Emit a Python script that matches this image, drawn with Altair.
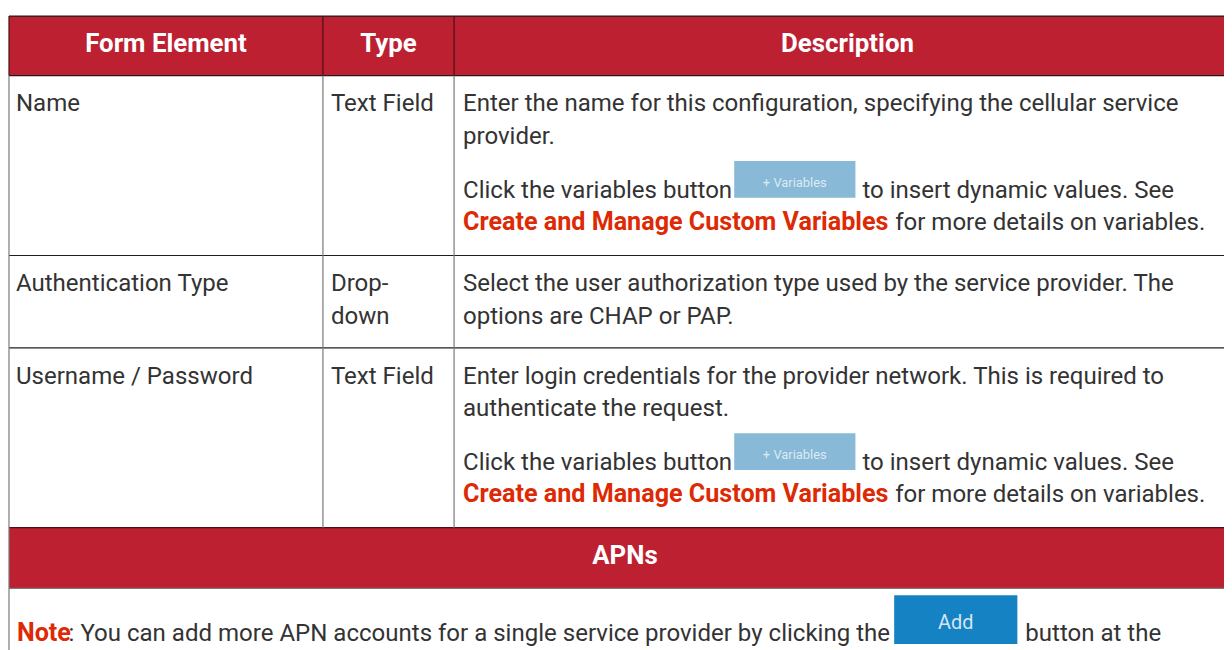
import altair as alt
import pandas as pd

# ---------------- content ----------------
headers = ["Form Element", "Type", "Description"]
row_elements = ["Name", "Authentication Type", "Username / Password"]
row_types = [["Text Field"], ["Drop-", "down"], ["Text Field"]]
row_desc = [
    ["Enter the name for this configuration, specifying the cellular service", "provider."],
    ["Select the user authorization type used by the service provider. The", "options are CHAP or PAP."],
    ["Enter login credentials for the provider network. This is required to", "authenticate the request."],
]
has_var_para = [True, False, True]
var_before = "Click the variables button"
var_button = "+ Variables"
var_after = "to insert dynamic values. See"
link_text = "Create and Manage Custom Variables"
link_after = "for more details on variables."
section_title = "APNs"
note_label = "Note"
note_text = ": You can add more APN accounts for a single service provider by clicking the"
add_button = "Add"
note_after = "button at the"

# ---------------- layout (page pixels) ----------------
W, H = 1224, 642
X0, Y0 = 8, 8
col_edges = [9, 325, 457, 1249]
row_edges = [14, 74, 255, 348, 529, 590, 700]
cell_pad = 8
base_off = 36
line_gap = 33
para_gap = 54
var_btn_x = (739, 861)
var_after_x = 868
link_after_x = 901
btn_h = 37
note_after_label_x = 69
add_btn = (900, 1024, 597, 646)
note_after_x = 1032
note_base = 643

FONT = "Roboto"
FS = 24.2
LFS = 25.3
HFS = 26
TXT = "#333333"
RED_HDR = "#BD2031"
LINK = "#DD2A05"

body, links, hdr, btns, blabels, lines = [], [], [], [], [], []

# header row
for i, h in enumerate(headers):
    hdr.append(dict(x=(col_edges[i] + col_edges[i + 1]) / 2, y=50, text=h))
hdr.append(dict(x=(col_edges[0] + col_edges[-1]) / 2, y=566, text=section_title))

# body rows
for r in range(3):
    top = row_edges[r + 1]
    b = top + base_off
    body.append(dict(x=col_edges[0] + cell_pad - 1, y=b, text=row_elements[r]))
    for k, t in enumerate(row_types[r]):
        body.append(dict(x=col_edges[1] + cell_pad, y=b + k * line_gap, text=t))
    dx = col_edges[2] + cell_pad + 1
    for k, t in enumerate(row_desc[r]):
        body.append(dict(x=dx, y=b + k * line_gap, text=t))
    if has_var_para[r]:
        pb = b + (len(row_desc[r]) - 1) * line_gap + para_gap
        body.append(dict(x=dx, y=pb, text=var_before))
        btns.append(dict(x=var_btn_x[0], x2=var_btn_x[1], y=pb - btn_h, y2=pb, c="#88B9D6"))
        blabels.append(dict(x=(var_btn_x[0] + var_btn_x[1]) / 2, y=pb - 11, text=var_button,
                            s=13, c="#DCEAF4"))
        body.append(dict(x=var_after_x, y=pb, text=var_after))
        links.append(dict(x=dx, y=pb + line_gap - 1, text=link_text))
        body.append(dict(x=link_after_x, y=pb + line_gap - 1, text=link_after))

# note row
links.append(dict(x=col_edges[0] + cell_pad, y=note_base, text=note_label))
body.append(dict(x=note_after_label_x, y=note_base, text=note_text))
btns.append(dict(x=add_btn[0], x2=add_btn[1], y=add_btn[2], y2=add_btn[3], c="#1583C3"))
blabels.append(dict(x=(add_btn[0] + add_btn[1]) / 2, y=add_btn[2] + 34, text=add_button,
                    s=20, c="#D3E6F3"))
body.append(dict(x=note_after_x, y=note_base, text=note_after))

# header bands
bands = [
    dict(x=col_edges[0], x2=col_edges[-1], y=row_edges[0], y2=row_edges[1], c=RED_HDR),
    dict(x=col_edges[0], x2=col_edges[-1], y=row_edges[4], y2=row_edges[5], c=RED_HDR),
]

# grid lines
DARK = "#1E1E1E"
MAROON = "#4A0F14"
GRAY = "#7A7A7A"
lines.append(dict(x=col_edges[0], x2=col_edges[-1], y=row_edges[0], y2=row_edges[0], c=DARK))
lines.append(dict(x=col_edges[0], x2=col_edges[-1], y=row_edges[1], y2=row_edges[1], c=DARK))
lines.append(dict(x=col_edges[0], x2=col_edges[-1], y=row_edges[2], y2=row_edges[2], c=DARK))
lines.append(dict(x=col_edges[0], x2=col_edges[-1], y=row_edges[3], y2=row_edges[3], c=DARK))
lines.append(dict(x=col_edges[0], x2=col_edges[-1], y=row_edges[4], y2=row_edges[4], c=MAROON))
lines.append(dict(x=col_edges[0], x2=col_edges[-1], y=row_edges[5], y2=row_edges[5], c=GRAY))
lines.append(dict(x=col_edges[0], x2=col_edges[0], y=row_edges[0], y2=row_edges[1], c=MAROON))
lines.append(dict(x=col_edges[0], x2=col_edges[0], y=row_edges[1], y2=row_edges[-1], c=GRAY))
for c in col_edges[1:3]:
    lines.append(dict(x=c, x2=c, y=row_edges[0], y2=row_edges[1], c=MAROON))
    lines.append(dict(x=c, x2=c, y=row_edges[1], y2=row_edges[4], c=GRAY))

xs = alt.Scale(domain=[X0, X0 + W], range=[0, W], nice=False, zero=False)
ys = alt.Scale(domain=[Y0, Y0 + H], range=[0, H], nice=False, zero=False)
X = lambda f="x": alt.X(f, type="quantitative", scale=xs, axis=None)
Y = lambda f="y": alt.Y(f, type="quantitative", scale=ys, axis=None)

rect_enc = dict(x=X(), x2="x2", y=Y(), y2="y2", color=alt.Color("c:N", scale=None))

band_l = alt.Chart(pd.DataFrame(bands)).mark_rect(clip=False).encode(**rect_enc)
btn_l = alt.Chart(pd.DataFrame(btns)).mark_rect(clip=False).encode(**rect_enc)
line_l = alt.Chart(pd.DataFrame(lines)).mark_rule(strokeWidth=1.2, clip=False).encode(
    x=X(), x2="x2", y=Y(), y2="y2", color=alt.Color("c:N", scale=None))

body_l = alt.Chart(pd.DataFrame(body)).mark_text(
    font=FONT, fontSize=FS, color=TXT, align="left", baseline="alphabetic", clip=False
).encode(x=X(), y=Y(), text="text:N")
link_l = alt.Chart(pd.DataFrame(links)).mark_text(
    font=FONT, fontSize=LFS, fontWeight="bold", color=LINK, align="left",
    baseline="alphabetic", clip=False
).encode(x=X(), y=Y(), text="text:N")
hdr_l = alt.Chart(pd.DataFrame(hdr)).mark_text(
    font=FONT, fontSize=HFS, fontWeight="bold", color="white", align="center",
    baseline="alphabetic", clip=False
).encode(x=X(), y=Y(), text="text:N")
blab_l = alt.Chart(pd.DataFrame(blabels)).mark_text(
    font="Roboto", align="center", baseline="alphabetic", clip=False
).encode(x=X(), y=Y(), text="text:N", size=alt.Size("s:Q", scale=None),
         color=alt.Color("c:N", scale=None))

chart = alt.layer(band_l, btn_l, line_l, body_l, link_l, hdr_l, blab_l).properties(
    width=W, height=H, padding=0, autosize=alt.AutoSizeParams(type="none"),
    background="white"
).configure_view(strokeWidth=0)

chart.save("out.html", embed_options={"renderer": "svg", "actions": False})
